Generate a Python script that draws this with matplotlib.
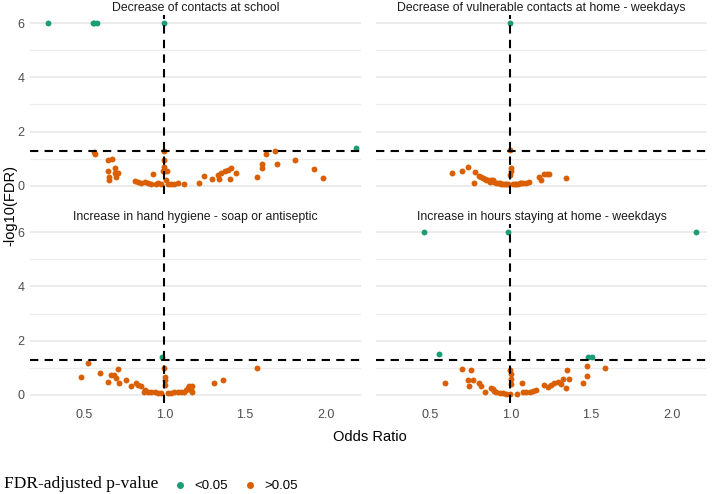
import numpy as np
import matplotlib
matplotlib.use("Agg")
import matplotlib.pyplot as plt
from matplotlib.lines import Line2D

plt.rcParams['font.family'] = ['Liberation Sans', 'DejaVu Sans']

# panel titles
titles = ["Decrease of contacts at school",
          "Decrease of vulnerable contacts at home - weekdays",
          "Increase in hand hygiene - soap or antiseptic",
          "Increase in hours staying at home - weekdays"]

# --- Decrease of contacts at school
school_sig_or = [0.275, 0.555, 0.565, 0.58, 1.0, 2.186]
school_sig_y = [6, 6, 6, 6, 6, 1.39]
school_ns_or = [0.561, 0.571, 0.652, 0.675, 0.648, 0.654, 0.69, 0.694, 0.714, 0.658, 0.696,
                0.814, 0.834, 0.855, 0.876, 0.896, 0.917, 0.928, 0.948, 0.959, 0.979, 0.99,
                1.0, 1.0, 1.0, 1.004, 1.017, 1.01, 1.02, 1.04, 1.062, 1.083, 1.12,
                1.217, 1.244, 1.294, 1.335, 1.34, 1.35, 1.373, 1.404, 1.393, 1.414, 1.445,
                1.576, 1.604, 1.604, 1.631, 1.683, 1.696, 1.81, 1.928, 1.986]
school_ns_y = [1.26, 1.18, 0.96, 0.98, 0.53, 0.34, 0.65, 0.47, 0.49, 0.22, 0.31,
               0.18, 0.13, 0.12, 0.16, 0.12, 0.07, 0.43, 0.06, 0.10, 0.06, 0.53,
               1.30, 0.96, 0.71, 0.53, 0.53, 0.22, 0.06, 0.06, 0.07, 0.10, 0.07,
               0.09, 0.38, 0.26, 0.40, 0.26, 0.47, 0.53, 0.26, 0.59, 0.65, 0.47,
               0.31, 0.65, 0.81, 1.17, 1.30, 0.80, 0.96, 0.61, 0.28]

# --- Decrease of vulnerable contacts at home
vuln_sig_or = [1.0]
vuln_sig_y = [6]
vuln_ns_or = [0.636, 0.698, 0.739, 0.781, 0.776, 0.807, 0.818, 0.828, 0.84, 0.849, 0.86, 0.87,
              0.88, 0.89, 0.90, 0.911, 0.922, 0.932, 0.942, 0.952, 0.963, 0.973, 0.985, 0.994,
              1.0, 1.004, 1.004, 1.014, 1.025, 1.035, 1.046, 1.056, 1.067, 1.077, 1.097,
              1.114, 1.18, 1.19, 1.211, 1.226, 1.242, 1.342]
vuln_ns_y = [0.49, 0.55, 0.71, 0.52, 0.12, 0.37, 0.33, 0.28, 0.26, 0.22, 0.20, 0.16,
             0.22, 0.22, 0.14, 0.12, 0.11, 0.10, 0.08, 0.07, 0.06, 0.06, 0.06, 0.40,
             1.33, 0.65, 0.53, 0.06, 0.06, 0.07, 0.08, 0.10, 0.11, 0.12, 0.12,
             0.16, 0.34, 0.22, 0.44, 0.44, 0.44, 0.28]

# --- Increase in hand hygiene
hand_sig_or = [0.983]
hand_sig_y = [1.41]
hand_ns_or = [0.482, 0.524, 0.6, 0.648, 0.669, 0.689, 0.71, 0.70, 0.72, 0.758, 0.793, 0.824,
              0.834, 0.855, 0.876, 0.872, 0.896, 0.917, 0.938, 0.959, 0.979, 1.0, 1.004,
              1.004, 1.004, 1.021, 1.041, 1.062, 1.083, 1.104, 1.12, 1.135, 1.145, 1.155,
              1.166, 1.17, 1.17, 1.31, 1.362, 1.576]
hand_ns_y = [0.67, 1.17, 0.82, 0.49, 0.74, 0.74, 0.94, 0.61, 0.45, 0.53, 0.31, 0.45,
             0.37, 0.31, 0.18, 0.12, 0.12, 0.09, 0.12, 0.06, 0.06, 0.98, 0.67,
             0.55, 0.37, 0.06, 0.06, 0.09, 0.09, 0.12, 0.09, 0.18, 0.25, 0.31,
             0.18, 0.33, 0.12, 0.45, 0.55, 0.98]

# --- Increase in hours staying at home
hours_sig_or = [0.462, 0.983, 2.153, 0.559, 1.48, 1.505]
hours_sig_y = [6, 6, 6, 1.51, 1.39, 1.39]
hours_ns_or = [0.594, 0.698, 0.752, 0.735, 0.741, 0.77, 0.803, 0.818, 0.843, 0.88, 0.89,
               0.90, 0.911, 0.932, 0.952, 0.973, 0.994, 1.0, 1.004, 1.006, 1.004, 1.041,
               1.07, 1.077, 1.097, 1.118, 1.139, 1.159, 1.211, 1.232, 1.253, 1.273, 1.294,
               1.315, 1.325, 1.346, 1.35, 1.366, 1.453, 1.476, 1.476, 1.584]
hours_ns_y = [0.43, 0.96, 0.92, 0.53, 0.31, 0.53, 0.43, 0.31, 0.09, 0.25, 0.20,
              0.16, 0.10, 0.06, 0.06, 0.04, 0.04, 0.92, 0.78, 0.59, 0.41, 0.04,
              0.43, 0.10, 0.10, 0.12, 0.16, 0.18, 0.37, 0.28, 0.38, 0.43, 0.47,
              0.41, 0.59, 0.25, 0.92, 0.59, 0.43, 0.68, 1.08, 0.98]

panels = [(school_sig_or, school_sig_y, school_ns_or, school_ns_y),
          (vuln_sig_or, vuln_sig_y, vuln_ns_or, vuln_ns_y),
          (hand_sig_or, hand_sig_y, hand_ns_or, hand_ns_y),
          (hours_sig_or, hours_sig_y, hours_ns_or, hours_ns_y)]

green = "#1B9E77"
orange = "#D95F02"
W, H = 714, 494

fig = plt.figure(figsize=(W / 100, H / 100), dpi=100)

# panel boxes in pixels: left, top, right, bottom
boxes = [(30, 15, 361, 194), (376, 15, 707, 194),
         (30, 224, 361, 403), (376, 224, 707, 403)]

for i, (box, data, title) in enumerate(zip(boxes, panels, titles)):
    l, t, r, b = box
    ax = fig.add_axes([l / W, 1 - b / H, (r - l) / W, (b - t) / H])
    gx, gy, ox, oy = data
    ax.scatter(ox, oy, s=18, color=orange, linewidths=0, zorder=3)
    ax.scatter(gx, gy, s=18, color=green, linewidths=0, zorder=3)
    ax.axhline(-np.log10(0.05), color="black", ls=(0, (4, 3)), lw=1.5, zorder=4)
    ax.axvline(1.0, color="black", ls=(0, (4, 3)), lw=1.5, zorder=4)
    # horizontal grid lines, major and minor, drawn by hand so both show
    for yv in [0, 2, 4, 6]:
        ax.axhline(yv, color="#E6E6E6", lw=1.1, zorder=0)
    for yv in [1, 3, 5]:
        ax.axhline(yv, color="#EDEDED", lw=0.9, zorder=0)
    ax.set_xlim(0.165, 2.22)
    ax.set_ylim(-0.3, 6.3)
    ax.set_yticks([0, 2, 4, 6])
    ax.set_xticks([0.5, 1.0, 1.5, 2.0])
    for s in ax.spines.values():
        s.set_visible(False)
    ax.tick_params(which="both", length=0, labelsize=9, labelcolor="#4D4D4D", pad=4)
    if i % 2 == 1:
        ax.set_yticklabels([])
    if i < 2:
        ax.set_xticklabels([])
    ax.set_title(title, fontsize=8.8, color="#1A1A1A", pad=3)

fig.text(10 / W, 1 - 205 / H, "-log10(FDR)", rotation=90, ha="center", va="center", fontsize=10.5)
fig.text(370 / W, 1 - 437 / H, "Odds Ratio", ha="center", va="center", fontsize=10.5)

# legend
fig.text(4 / W, 1 - 484 / H, "FDR-adjusted p-value", ha="left", va="center",
         fontsize=12.5, family="Liberation Serif")
handles = [Line2D([], [], marker="o", ls="", color=green, markersize=4),
           Line2D([], [], marker="o", ls="", color=orange, markersize=4)]
fig.legend(handles, ["<0.05", ">0.05"], loc="center left", bbox_to_anchor=(160 / W, 1 - 486 / H),
           ncol=2, frameon=False, fontsize=9.5, handletextpad=0.5, columnspacing=1.1,
           handlelength=1.2)

plt.savefig("out.png", dpi=100)
